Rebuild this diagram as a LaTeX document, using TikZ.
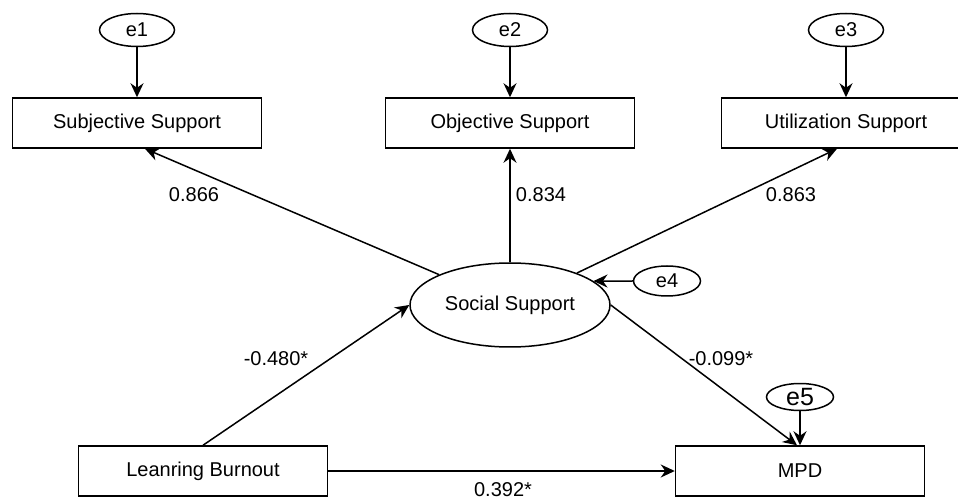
\documentclass[tikz,border=0pt]{standalone}
\usepackage{fontspec}
\setmainfont{Liberation Sans}
\usetikzlibrary{shapes.geometric,arrows.meta,positioning,calc}

\begin{document}
\begin{tikzpicture}[
    x=1pt, y=-1pt,
    font=\fontsize{20}{24}\selectfont,
    line width=1.5pt,
    obs/.style={rectangle, draw, minimum width=249pt, minimum height=50pt, inner sep=0pt},
    lat/.style={ellipse, draw, minimum width=200pt, minimum height=84pt, inner sep=0pt},
    err/.style={ellipse, draw, minimum width=75pt, minimum height=33pt, inner sep=0pt},
    arr/.style={-{Stealth[length=14pt,width=13pt]}}
]
    \useasboundingbox (0,0) rectangle (958,502);

    \node[obs] (subj) at (137,123) {Subjective Support};
    \node[obs] (obj) at (510,123) {Objective Support};
    \node[obs] (util) at (846,123) {Utilization Support};
    \node[lat] (social) at (510,305) {Social Support};
    \node[obs] (burnout) at (203,471) {Leanring Burnout};
    \node[obs] (mpd) at (800,471) {MPD};

    \node[err, above=50pt of subj] (e1) {e1};
    \node[err, above=50pt of obj] (e2) {e2};
    \node[err, above=50pt of util] (e3) {e3};
    \node[err, minimum width=67pt, minimum height=30pt] (e4) at (667,281) {e4};
    \node[err, minimum width=67pt, minimum height=27pt, font=\fontsize{25}{29}\selectfont, above=34pt of mpd] (e5) {e5};

    % error terms
    \draw[arr] (e1) -- (subj);
    \draw[arr] (e2) -- (obj);
    \draw[arr] (e3) -- (util);
    \draw[arr] (e4.west) -- (social.16);
    \draw[arr] (e5) -- (mpd);

    % loadings and paths
    \draw[arr] (social) -- ($(subj.south)+(8,0)$);
    \draw[arr] (social) -- (obj);
    \draw[arr] (social) -- ($(util.south)+(-9,0)$);
    \draw[arr] (burnout.north) -- (social.west);
    \draw[arr] (social.east) -- ($(mpd.north)+(-3,0)$);
    \draw[arr] (burnout) -- (mpd);

    \node (w1) at (194,195) {0.866};
    \node (w2) at (541,195) {0.834};
    \node (w3) at (791,195) {0.863};
    \node (w4) at (276,359) {-0.480*};
    \node (w5) at (721,359) {-0.099*};
    \node (w6) at (503,490) {0.392*};
\end{tikzpicture}
\end{document}
